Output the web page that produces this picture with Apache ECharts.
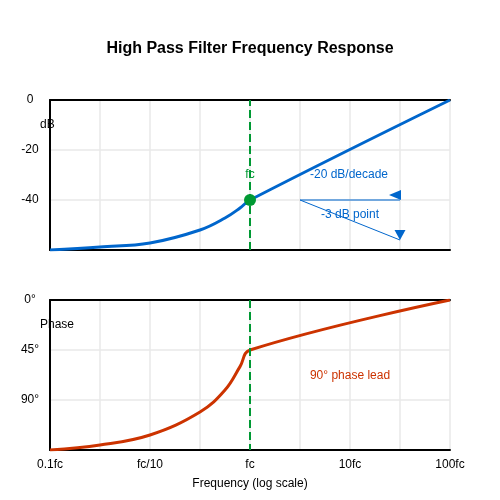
<!DOCTYPE html><html><head><meta charset="utf-8"><script src="https://cdn.jsdelivr.net/npm/echarts@6/dist/echarts.min.js"></script></head><body style="margin:0"><div id="c" style="width:500px;height:500px"></div><script>
const xTickLabels = ['0.1fc','fc/10','fc','10fc','100fc'];
const magX = [0,0.5,1,1.5,1.75,1.9,2,4];
const magDb = [-60,-58.8,-57.2,-52,-47.2,-43.2,-40,0];
const phX = [0,0.5,1,1.5,1.75,1.9,2,4];
const phDeg = [135,130.5,121.5,100.8,81,60,45,0];
const dbTicks = {0:'0','-20':'-20','-40':'-40'};
const degTicks = {0:'0°',45:'45°',90:'90°'};
const BLUE='#0066cc', RED='#cc3300', GREEN='#009933';
const ch = echarts.init(document.getElementById('c'));
function xa(i, pos, show){
  return {type:'value',gridIndex:i,min:0,max:4,interval:0.5,position:pos,
    axisLine:{show:true,onZero:false,lineStyle:{color:'#000',width:2}},axisTick:{show:false},
    splitLine:{show:pos==='bottom',lineStyle:{color:'#e8e8e8',width:1.5}},
    axisLabel:{show:show,color:'#000',fontSize:12,margin:9,formatter:v=>Number.isInteger(v)?xTickLabels[v]:''},
    name: show?'Frequency (log scale)':'',nameLocation:'middle',nameGap:28,nameTextStyle:{color:'#000',fontSize:12}};
}
ch.setOption({
  animation:false,
  title:{text:'High Pass Filter Frequency Response',left:'center',top:36,textStyle:{fontSize:16,fontWeight:'bold',color:'#000'}},
  grid:[{left:50,right:50,top:100,height:150},{left:50,right:50,top:300,height:150}],
  xAxis:[xa(0,'bottom',false),xa(0,'top',false),xa(1,'bottom',true),xa(1,'top',false)],
  yAxis:[
    {type:'value',gridIndex:0,min:-60,max:0,interval:20,axisLine:{show:true,lineStyle:{color:'#000',width:2}},axisTick:{show:false},
     splitLine:{lineStyle:{color:'#e8e8e8',width:1.5}},axisLabel:{color:'#000',fontSize:12,align:'center',margin:20,formatter:v=>dbTicks[v]||''}},
    {type:'value',gridIndex:1,min:0,max:135,interval:45,inverse:true,axisLine:{show:true,lineStyle:{color:'#000',width:2}},axisTick:{show:false},
     splitLine:{lineStyle:{color:'#e8e8e8',width:1.5}},axisLabel:{color:'#000',fontSize:12,align:'center',margin:20,formatter:v=>degTicks[v]||''}}
  ],
  graphic:[
    {type:'text',left:40,top:119,style:{text:'dB',fontSize:12,fill:'#000'}},
    {type:'text',left:40,top:319,style:{text:'Phase',fontSize:12,fill:'#000'}}
  ],
  series:[
    {type:'line',xAxisIndex:0,yAxisIndex:0,data:magX.map((x,i)=>[x,magDb[i]]),smooth:0.4,showSymbol:false,lineStyle:{color:BLUE,width:3},z:3,
     markLine:{silent:true,symbol:'none',label:{show:false},data:[
       [{coord:[2.5,-40],lineStyle:{color:'#4a90d9',width:1.5,type:'solid'}},{coord:[3.5,-40]}],
       [{coord:[2.5,-40],lineStyle:{color:BLUE,width:1,type:'solid'}},{coord:[3.5,-56]}]
     ]},
     markPoint:{silent:true,data:[
       {coord:[2,-40],symbol:'circle',symbolSize:12,itemStyle:{color:GREEN},label:{show:false}},
       {coord:[3.45,-38],symbol:'triangle',symbolRotate:90,symbolSize:[10,12],itemStyle:{color:BLUE},label:{show:false}},
       {coord:[3.5,-54],symbol:'triangle',symbolRotate:180,symbolSize:[11,10],itemStyle:{color:BLUE},label:{show:false}},
       {coord:[2,-30],symbolSize:0,label:{show:true,formatter:'fc',color:GREEN,fontSize:12,position:'inside'}},
       {coord:[2.99,-30],symbolSize:0,label:{show:true,formatter:'-20 dB/decade',color:BLUE,fontSize:12,position:'inside'}},
       {coord:[3,-46],symbolSize:0,label:{show:true,formatter:'-3 dB point',color:BLUE,fontSize:12,position:'inside'}}
     ]}},
    {type:'line',xAxisIndex:0,yAxisIndex:0,data:[],markLine:{silent:true,symbol:'none',label:{show:false},lineStyle:{color:GREEN,type:'dashed',width:2},data:[{xAxis:2}]}},
    {type:'line',xAxisIndex:2,yAxisIndex:1,data:phX.map((x,i)=>[x,phDeg[i]]),smooth:0.4,showSymbol:false,lineStyle:{color:RED,width:3},
     markLine:{silent:true,symbol:'none',label:{show:false},lineStyle:{color:GREEN,type:'dashed',width:2},data:[{xAxis:2}]},
     markPoint:{silent:true,data:[{coord:[3,68.4],symbolSize:0,label:{show:true,formatter:'90° phase lead',color:RED,fontSize:12,position:'inside'}}]}}
  ]
});
</script></body></html>
